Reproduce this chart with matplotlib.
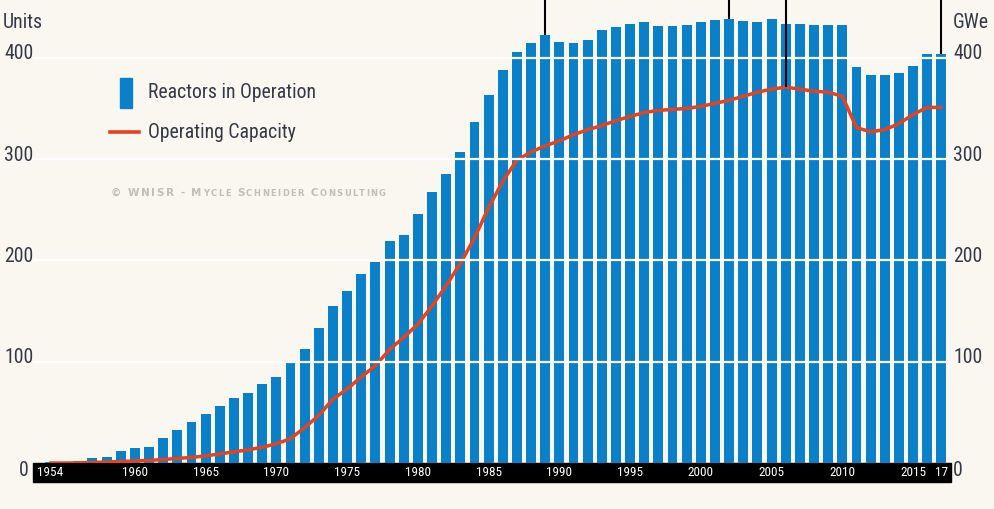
import matplotlib
matplotlib.use('Agg')
import matplotlib.pyplot as plt
from matplotlib.patches import Rectangle
import matplotlib.transforms as mtransforms
from matplotlib import font_manager as fm

# ---------------- data ----------------
years = list(range(1954, 2018))
reactors = [1, 1, 2, 5, 6, 12, 15, 16, 25, 33,
            40, 48, 56, 64, 69, 78, 85, 99, 113, 133,
            155, 170, 187, 198, 219, 225, 246, 267, 285, 307,
            337, 363, 388, 406, 415, 422, 416, 415, 418, 427,
            430, 433, 435, 431, 431, 432, 435, 437, 438, 436,
            435, 438, 433, 433, 432, 432, 432, 391, 383, 383,
            385, 392, 404, 404]
capacity = [0, 0, 0.1, 0.5, 1, 1.5, 2, 2.5, 3.5, 4.5,
            5.5, 7, 9, 11, 13, 15.5, 19, 24, 35, 47,
            63, 73, 85, 96, 112, 124, 137, 155, 175, 197,
            222, 252, 278, 299, 307, 313, 318, 324, 329, 333,
            338, 342, 346, 348, 349, 350, 352, 355, 358, 362,
            366, 369, 371, 369, 367, 366, 362, 331, 327, 329,
            335, 344, 351, 351]
tick_years = [1954, 1960, 1965, 1970, 1975, 1980, 1985, 1990, 1995, 2000, 2005, 2010, 2015, 2017]
tick_labels = ['1954', '1960', '1965', '1970', '1975', '1980', '1985', '1990', '1995',
               '2000', '2005', '2010', '2015', '17']
y_ticks = [0, 100, 200, 300, 400]
annot_years = [1989, 2002, 2006, 2017]
annot_series = ['reactors', 'reactors', 'capacity', 'reactors']

# ---------------- font choice (condensed if available) ----------------
entries = fm.fontManager.ttflist
names = {f.name for f in entries}
COND = None
STRETCH = 'normal'
for cand in ['Liberation Sans Narrow', 'Roboto Condensed', 'Open Sans Condensed',
             'Noto Sans Condensed', 'DejaVu Sans Condensed']:
    if cand in names:
        COND = cand
        break
if COND is None:
    if any(f.name == 'DejaVu Sans' and 'condensed' in str(f.stretch) for f in entries):
        COND, STRETCH = 'DejaVu Sans', 'condensed'
    else:
        COND = 'DejaVu Sans'
NARROW = COND != 'DejaVu Sans' or STRETCH == 'condensed'
FS = 14.2 if NARROW else 11.5
FT = 9.5 if NARROW else 8
plt.rcParams['font.family'] = [COND, 'DejaVu Sans']
plt.rcParams['font.stretch'] = STRETCH

# ---------------- style ----------------
BG = '#faf7f0'
BLUE = '#0a80c8'
RED = '#e5431f'
TXT = '#343847'
W, H = 994, 509

fig = plt.figure(figsize=(W / 100, H / 100), dpi=100, facecolor=BG)
ax = fig.add_axes([33 / W, (H - 463) / H, (951 - 33) / W, 463 / H])
ax.set_facecolor(BG)
for s in ax.spines.values():
    s.set_visible(False)

ax.bar(years, reactors, width=0.7, color=BLUE, zorder=2)
ax.plot(years, capacity, color=RED, lw=2.5, zorder=3,
        solid_joinstyle='round', solid_capstyle='round')
for v in y_ticks[1:]:
    ax.axhline(v, color='white', lw=1.6, zorder=4)

ax.set_xlim(1952.8, 2017.68)
ax.set_ylim(0, 457)

# annotation leader lines
for yr, ser in zip(annot_years, annot_series):
    i = years.index(yr)
    v = reactors[i] if ser == 'reactors' else capacity[i]
    ax.vlines(yr, v, 457, color='black', lw=1.5, zorder=5)

# x ticks inside black band
ax.set_xticks(tick_years, tick_labels)
ax.tick_params(axis='x', length=0, pad=2.3, labelcolor='white', labelsize=FT)
ax.set_yticks([])
band = Rectangle((33 / W, (H - 482) / H), (951 - 33) / W, 19 / H,
                 transform=fig.transFigure, color='black', zorder=0.5, clip_on=False)
ax.add_patch(band)

# y labels (left units, right GWe)
lt = mtransforms.blended_transform_factory(fig.transFigure, ax.transData)
for v in y_ticks:
    dy = -8 if v == 0 else 4
    off = mtransforms.offset_copy(lt, fig=fig, y=dy, units='dots')
    if v == 0:
        ax.text(29 / W, v, str(v), transform=off, ha='right', va='center',
                fontsize=FS, color=TXT)
    else:
        ax.text(4 / W, v, str(v), transform=off, ha='left', va='center',
                fontsize=FS, color=TXT)
    ax.text(953 / W, v, str(v), transform=off, ha='left', va='center',
            fontsize=FS, color=TXT)

fig.text(3 / W, 1 - 22 / H, 'Units', ha='left', va='center', fontsize=FS, color=TXT)
fig.text(953 / W, 1 - 22 / H, 'GWe', ha='left', va='center', fontsize=FS, color=TXT)

# legend
fig.patches.append(Rectangle((120 / W, 1 - 108 / H), 12 / W, 30 / H,
                             transform=fig.transFigure, color=BLUE, figure=fig))
fig.add_artist(plt.Line2D([110 / W, 139 / W], [1 - 132 / H, 1 - 132 / H],
                          transform=fig.transFigure, color=RED, lw=2.6))
fig.text(148 / W, 1 - 93 / H, 'Reactors in Operation', ha='left', va='center',
         fontsize=FS, color=TXT)
fig.text(148 / W, 1 - 133 / H, 'Operating Capacity', ha='left', va='center',
         fontsize=FS, color=TXT)

# watermark in small caps, tracked letter by letter
pieces = [('© WNISR - M', 7.5), ('YCLE ', 6.0), ('S', 7.5), ('CHNEIDER ', 6.0),
          ('C', 7.5), ('ONSULTING', 6.0)]
fig.canvas.draw()
renderer = fig.canvas.get_renderer()
chars = [(c, fs) for txt, fs in pieces for c in txt]
widths = []
for c, fs in chars:
    t = fig.text(0, 0, c if c != ' ' else '-', fontsize=fs, fontweight='bold',
                 family=['DejaVu Sans'])
    w = t.get_window_extent(renderer=renderer).width
    widths.append(w if c != ' ' else w * 0.9)
    t.remove()
total = sum(widths)
track = (275 - total) / (len(chars) - 1)
x = 111.0
for (c, fs), w in zip(chars, widths):
    if c != ' ':
        fig.text(x / W, 1 - 196 / H, c, ha='left', va='baseline', fontsize=fs,
                 color='#c2beb7', fontweight='bold', family=['DejaVu Sans'])
    x += w + track

fig.savefig('out.png', dpi=100, facecolor=BG)
